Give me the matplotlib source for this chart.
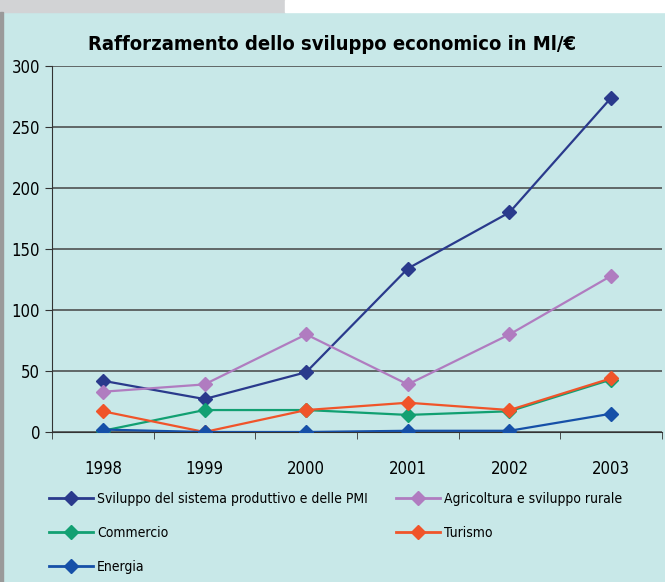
import matplotlib.pyplot as plt
from matplotlib.lines import Line2D
import matplotlib.patches as mpatches
import numpy as np

years = ['1998', '1999', '2000', '2001', '2002', '2003']
sviluppo = [42, 27, 49, 134, 180, 274]
agricoltura = [33, 39, 80, 39, 80, 128]
commercio = [1, 18, 18, 14, 17, 43]
turismo = [17, 0, 18, 24, 18, 44]
energia = [2, 0, 0, 1, 1, 15]

series = [
    ('Sviluppo del sistema produttivo e delle PMI', sviluppo, '#2a3a8c'),
    ('Agricoltura e sviluppo rurale', agricoltura, '#b07cc0'),
    ('Commercio', commercio, '#12a072'),
    ('Turismo', turismo, '#f0542a'),
    ('Energia', energia, '#1650a8'),
]

bg = '#c8e8e8'
cond = dict(family='DejaVu Sans', stretch='condensed')

fig = plt.figure(figsize=(6.65, 5.82), dpi=100, facecolor=bg)

# top strip and left border
fig.patches.append(mpatches.Rectangle((0, 1 - 12/582), 285/665, 12/582,
                                      transform=fig.transFigure, color='#d2d3d5', zorder=0))
fig.patches.append(mpatches.Rectangle((285/665, 1 - 12/582), 1, 12/582,
                                      transform=fig.transFigure, color='white', zorder=0))
fig.patches.append(mpatches.Rectangle((0, 0), 3/665, 1 - 12/582,
                                      transform=fig.transFigure, color='#9a9a9a', zorder=0))

ax = fig.add_axes([52/665, 1 - 432/582, 610/665, 366/582])
ax.set_facecolor(bg)

x = np.arange(len(years))
for name, vals, col in series:
    ax.plot(x, vals, color=col, lw=1.6, marker='D', ms=7.5, label=name, zorder=3)

ax.set_xlim(-0.5, len(years) - 0.5)
ax.set_ylim(0, 300)
ax.set_yticks(range(0, 301, 50))
ax.yaxis.grid(True, color='#444444', lw=1.1)
ax.set_axisbelow(True)
ax.set_xticks(x)
ax.set_xticklabels(years, fontsize=12, **cond)
ax.set_xticks(np.arange(-0.5, len(years), 1), minor=True)
ax.tick_params(axis='x', which='major', length=0, pad=20)
ax.tick_params(axis='x', which='minor', length=5, color='#333333')
ax.tick_params(axis='y', length=5, color='#333333')
ax.set_yticklabels([str(v) for v in range(0, 301, 50)], fontsize=12, **cond)
for s in ['top', 'right']:
    ax.spines[s].set_visible(False)
ax.spines['left'].set_color('#333333')
ax.spines['bottom'].set_color('#333333')

fig.text(0.5, 1 - 44/582, 'Rafforzamento dello sviluppo economico in Ml/€',
         ha='center', va='center', fontsize=14.5, fontweight='bold', **cond)

handles = [Line2D([], [], color=c, lw=2, marker='D', ms=7.5) for _, _, c in series]
labels = [n for n, _, _ in series]
left = [0, 2, 4]
right = [1, 3]
leg1 = ax.legend([handles[i] for i in left], [labels[i] for i in left],
                 loc='upper left', bbox_to_anchor=(36/665, 1 - 479/582),
                 bbox_transform=fig.transFigure,
                 frameon=False, handlelength=3.2, labelspacing=1.45,
                 handletextpad=0.3, prop=dict(size=10, **cond))
ax.add_artist(leg1)
leg2 = ax.legend([handles[i] for i in right], [labels[i] for i in right],
                 loc='upper left', bbox_to_anchor=(383/665, 1 - 479/582),
                 bbox_transform=fig.transFigure,
                 frameon=False, handlelength=3.2, labelspacing=1.45,
                 handletextpad=0.3, prop=dict(size=10, **cond))

fig.savefig('out.png', dpi=100, facecolor=bg)
